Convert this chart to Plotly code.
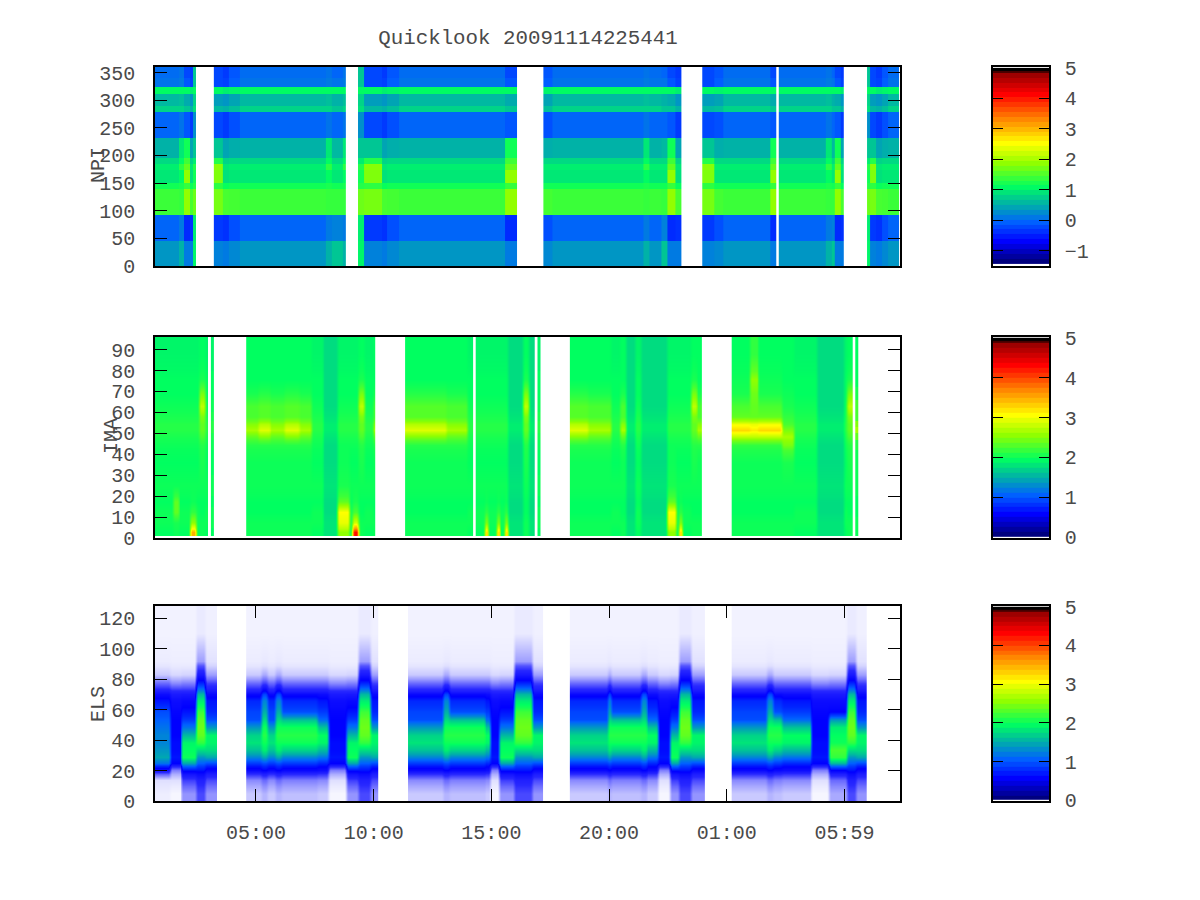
import plotly.graph_objects as go

TITLE = "Quicklook 20091114225441"
TIME_TICKS = [5, 10, 15, 20, 25, 30]
TIME_LABELS = ["05:00", "10:00", "15:00", "20:00", "01:00", "05:59"]
TIME_START = 0.71
TIME_END = 32.36
CELL_HOURS = 0.125

NPI_EDGES = [0, 46, 92, 140, 150, 173, 185, 195, 232, 278, 290, 312, 323, 340, 360]
NPI_PROFILES = {
    "N": [.25, -.1, 1.33, 1.1, .85, .9, .75, .45, -.1, .7, .5, 1.0, .0, -.05],
    "M": [.15, -.25, 1.38, 1.1, .85, .9, .75, .42, -.25, .55, .35, .95, -.15, -.2],
    "D": [.05, -.45, 1.4, 1.05, .8, .85, .7, .35, -.4, .45, .25, .9, -.35, -.4],
    "H": [.1, -.4, 1.65, 1.25, 1.7, 1.75, 1.2, .6, -.3, .5, .3, 1.0, -.3, -.3],
    "E": [.95, .9, 1.6, 1.2, 1.1, 1.2, .9, .6, .2, .8, .7, 1.0, .6, .6],
    "S": [.45, .05, 1.3, 1.15, 1.0, 1.25, 1.0, .85, .0, .7, .55, 1.0, .05, .0],
    "T": [.6, .1, 1.3, 1.1, .85, .9, .75, .5, -.1, .6, .45, 1.0, .0, -.1],
    "Y": [.05, -.5, 1.8, 1.3, 1.8, 1.55, 1.35, 1.1, -.2, .6, .4, 1.0, -.2, -.3],
}
NPI_RUNS = [
    ("N", 8), ("S", 2), ("Y", 2), ("D", 1), ("E", 1), ("-", 6),
    ("H", 3), ("D", 2), ("M", 4), ("N", 29), ("S", 2), ("T", 4), ("S", 1), ("-", 4),
    ("E", 2), ("H", 6), ("D", 2), ("M", 4), ("N", 36), ("Y", 4), ("-", 9),
    ("M", 3), ("N", 31), ("S", 2), ("N", 4), ("T", 2), ("Y", 3), ("D", 2), ("-", 7),
    ("H", 4), ("M", 3), ("N", 16), ("Y", 2), ("-", 1), ("N", 16), ("S", 2), ("T", 1), ("Y", 2), ("D", 1), ("-", 8),
    ("E", 1), ("H", 2), ("D", 2), ("M", 2), ("N", 4),
]
NPI_TICKS = [0, 50, 100, 150, 200, 250, 300, 350]

# IMA
IMA_EDGES = [1, 5, 10, 15, 20, 30, 42, 47, 50, 53, 56, 60, 66, 72, 80, 96]
IMA_PROFILES = {
    "g": [1.9, 1.95, 1.95, 1.9, 1.95, 1.9, 1.95, 2.0, 2.05, 2.05, 2.0, 1.95, 1.9, 1.9, 1.85],
    "c": [1.75, 1.75, 1.7, 1.7, 1.75, 1.7, 1.7, 1.75, 1.8, 1.8, 1.75, 1.7, 1.7, 1.7, 1.7],
    "m": [1.95, 1.95, 1.9, 1.9, 1.95, 1.95, 2.05, 2.3, 2.6, 2.45, 2.2, 2.2, 2.0, 1.9, 1.9],
    "h": [1.95, 1.95, 1.9, 1.9, 1.95, 1.95, 2.05, 2.45, 2.85, 2.65, 2.25, 2.25, 2.05, 1.9, 1.9],
    "R": [1.95, 1.95, 1.9, 1.9, 1.95, 1.95, 2.1, 2.7, 3.2, 2.95, 2.3, 2.2, 2.0, 1.95, 1.9],
    "Q": [1.95, 1.95, 1.9, 1.9, 1.95, 1.95, 2.1, 2.7, 3.1, 2.9, 2.3, 2.3, 2.35, 2.5, 2.1],
    "d": [1.95, 1.95, 1.9, 1.9, 1.95, 2.0, 2.4, 2.6, 2.4, 2.2, 2.1, 2.0, 1.95, 1.9, 1.9],
    "y": [1.95, 1.95, 1.9, 1.9, 1.95, 2.0, 2.05, 2.2, 2.3, 2.3, 2.4, 2.7, 2.4, 2.0, 1.9],
    "w": [1.95, 2.0, 2.3, 2.3, 1.95, 1.9, 1.95, 2.0, 2.05, 2.05, 2.0, 1.95, 1.9, 1.9, 1.85],
    "b": [2.5, 2.9, 3.0, 2.3, 2.0, 1.95, 1.95, 2.0, 2.05, 2.05, 2.0, 1.95, 1.9, 1.9, 1.85],
    "o": [3.4, 2.5, 2.1, 1.95, 1.95, 1.9, 1.95, 2.0, 2.05, 2.05, 2.0, 1.95, 1.9, 1.9, 1.85],
    "r": [4.2, 2.8, 2.2, 2.0, 1.95, 1.9, 1.95, 2.0, 2.05, 2.05, 2.0, 1.95, 1.9, 1.9, 1.85],
}
IMA_RUNS = [
    ("g", 6), ("w", 2), ("g", 4), ("o", 2), ("g", 1), ("y", 2), ("g", 1), ("-", 1), ("g", 1), ("-", 11),
    ("m", 4), ("h", 4), ("m", 5), ("h", 5), ("m", 4), ("g", 4), ("c", 5), ("b", 4), ("g", 1), ("r", 2),
    ("y", 2), ("g", 3), ("m", 1), ("-", 10),
    ("h", 14), ("m", 7), ("g", 2), ("-", 1),
    ("g", 3), ("o", 1), ("g", 3), ("o", 1), ("g", 2), ("o", 1), ("c", 5), ("y", 2), ("c", 2), ("-", 1), ("g", 1), ("-", 10),
    ("h", 6), ("m", 8), ("g", 3), ("m", 2), ("c", 3), ("g", 2), ("c", 9), ("b", 3), ("g", 1), ("o", 1), ("g", 3), ("y", 2), ("m", 2), ("-", 10),
    ("R", 6), ("Q", 3), ("R", 8), ("d", 4), ("g", 8), ("c", 9), ("g", 1), ("y", 2), ("-", 1), ("m", 1), ("-", 14),
]
IMA_TICKS = [0, 10, 20, 30, 40, 50, 60, 70, 80, 90]

# ELS: values under 0 stand for the sparse dots, as a partial cover of the white
ELS_EDGES = [0, 10, 18, 23, 27, 31, 36, 41, 46, 51, 56, 62, 70, 75, 80, 86, 92, 128]
ELS_PROFILES = {
    "A": [-.75, -.45, .35, .7, 1.1, 1.5, 1.85, 1.9, 1.55, 1.05, .8, .6, .1, -.3, -.75, -.88, -.94],
    "B": [-.92, -.85, .3, 1.1, 1.4, 1.3, 1.2, 1.2, 1.1, 1.0, .9, .6, .1, -.3, -.75, -.88, -.94],
    "C": [-.96, -.85, -.4, .5, .6, .55, .55, .5, .5, .5, .45, .35, .0, -.45, -.82, -.9, -.94],
    "F": [-.75, -.45, .4, .8, 1.2, 1.55, 1.75, 1.65, 1.3, .9, .85, .7, .1, -.3, -.75, -.88, -.94],
    "L": [-.65, -.3, .5, .9, 1.4, 1.8, 1.95, 2.05, 1.95, 1.7, 1.45, 1.2, .5, -.1, -.6, -.85, -.94],
    "H": [-.7, -.4, .4, .8, 1.2, 1.65, 1.95, 2.05, 1.95, 1.55, .9, .7, .1, -.3, -.75, -.88, -.94],
    "P": [-.5, -.1, .6, 1.4, 1.95, 1.9, 1.85, 1.5, 1.1, .8, .6, .4, .0, -.4, -.8, -.9, -.94],
    "Q": [-.15, .1, .6, 1.0, 1.3, 1.7, 2.1, 2.3, 2.35, 2.3, 2.15, 1.8, 1.2, .7, .2, -.2, -.9],
    "R": [-.5, -.15, .4, .9, 1.4, 1.7, 1.85, 1.85, 1.3, .9, .7, .6, .2, -.1, -.55, -.8, -.93],
    "G": [-.6, -.3, .5, 1.5, 2.1, 2.2, 1.95, 1.9, 1.8, 1.3, .5, .35, .0, -.4, -.8, -.9, -.94],
}
ELS_RUNS = [
    ("B", 5), ("C", 4), ("P", 5), ("Q", 3), ("R", 4), ("-", 10),
    ("F", 5), ("L", 2), ("F", 3), ("L", 2), ("H", 12), ("A", 4), ("C", 6), ("P", 4), ("Q", 4), ("R", 3), ("-", 10),
    ("F", 12), ("L", 2), ("H", 12), ("A", 2), ("C", 3), ("P", 5), ("Q", 6), ("R", 4), ("-", 9),
    ("F", 13), ("L", 1), ("H", 10), ("L", 2), ("A", 4), ("C", 4), ("P", 3), ("Q", 4), ("R", 5), ("-", 9),
    ("F", 12), ("L", 2), ("H", 3), ("A", 10), ("C", 6), ("G", 6), ("Q", 3), ("R", 4), ("-", 11),
]
ELS_TICKS = [0, 20, 40, 60, 80, 100, 120]

# Colour bars
PALETTE = [
    (0, "#00007f"), (.1, "#0000ff"), (.2, "#0060ff"), (.28, "#00a8b0"), (.38, "#00ff60"),
    (.5, "#90ff00"), (.6, "#ffff00"), (.72, "#ff8c00"), (.85, "#ff0000"), (.97, "#8b0000"),
    (.98, "#000000"), (1, "#000000"),
]
BAR_STEPS = [0, .025, .05, .075, .1, .125, .15, .175, .2, .225, .25, .275, .3, .325, .35, .375, .4,
             .425, .45, .475, .5, .525, .55, .575, .6, .625, .65, .675, .7, .725, .75, .775, .8,
             .825, .85, .875, .9, .925, .95, .975, .985, 1]
NPI_BAR_MIN, NPI_BAR_MAX = -1.42, 5
BAR_MIN, BAR_MAX = 0, 5
NPI_BAR_TICKS = [-1, 0, 1, 2, 3, 4, 5]
BAR_TICKS = [0, 1, 2, 3, 4, 5]

FONT = "Liberation Mono"
INK = "#4a4a4a"
PAGE_MARGIN = 8  # the browser's default body margin
W, H = 1200 - PAGE_MARGIN, 900 - PAGE_MARGIN
PLOT_X = (155, 900)
BAR_X = (993, 1049)
PANELS = [(67, 266), (337, 538), (606, 801)]
TICK_LEN = 12


def xpos(px):
    return (px - PAGE_MARGIN) / W


def ypos(px):
    return 1 - (px - PAGE_MARGIN) / H


def sections(runs, profiles):
    """Split the runs at the data gaps: (first column index, list of columns)."""
    out, index, current, start = [], 0, [], 0
    for key, count in runs:
        if key == "-":
            if current:
                out.append((start, current))
            current = []
            index += count
            start = index
        else:
            current += [profiles[key]] * count
            index += count
    if current:
        out.append((start, current))
    return out


ELS_SCALE = [[0, "#ffffff"], [1 / 6, "#2828ff"]] + [[(f * 5 + 1) / 6, c] for f, c in PALETTE[1:]]
SCALE = [[f, c] for f, c in PALETTE]

fig = go.Figure()
for i, (edges, runs, profiles, zmin, zmax, scale, smooth) in enumerate([
    (NPI_EDGES, NPI_RUNS, NPI_PROFILES, NPI_BAR_MIN, NPI_BAR_MAX, SCALE, False),
    (IMA_EDGES, IMA_RUNS, IMA_PROFILES, BAR_MIN, BAR_MAX, SCALE, "best"),
    (ELS_EDGES, ELS_RUNS, ELS_PROFILES, -1, 5, ELS_SCALE, "best"),
]):
    for start, cols in sections(runs, profiles):
        z = [[c[r] for c in cols] for r in range(len(edges) - 1)]
        # a lone column cannot be interpolated, so it stays a plain brick
        fig.add_trace(go.Heatmap(
            z=z, y=edges,
            x0=TIME_START + CELL_HOURS * (start + 0.5), dx=CELL_HOURS,
            zmin=zmin, zmax=zmax, colorscale=scale, showscale=False,
            zsmooth=smooth if len(cols) > 1 else False,
            xaxis=f"x{i + 1}", yaxis=f"y{i + 1}",
        ))

for i, (lo, hi) in enumerate([(NPI_BAR_MIN, NPI_BAR_MAX), (BAR_MIN, BAR_MAX), (BAR_MIN, BAR_MAX)]):
    fig.add_trace(go.Heatmap(
        z=[[f] for f in BAR_STEPS[:-1]], x=[0, 1],
        y=[lo + (hi - lo) * f for f in BAR_STEPS],
        zmin=0, zmax=1, colorscale=SCALE, showscale=False,
        xaxis=f"x{i + 4}", yaxis=f"y{i + 4}",
    ))

axis_line = dict(showline=True, linecolor="#000000", linewidth=1.5, mirror=True, showgrid=False, zeroline=False)
tick_font = dict(family=FONT, size=20, color=INK)
layout = dict(
    width=W, height=H, margin=dict(l=0, r=0, t=0, b=0, autoexpand=False), autosize=False,
    paper_bgcolor="#ffffff", plot_bgcolor="#ffffff", font=dict(family=FONT, color=INK),
    title=dict(text=TITLE, x=xpos(528), xanchor="center", xref="container", y=ypos(37), yanchor="middle",
               yref="container", font=dict(family=FONT, size=20.8, color=INK)),
    annotations=[
        dict(text=t, x=xpos(xp), y=ypos(yp), xref="paper", yref="paper", textangle=-90, showarrow=False,
             xanchor="center", yanchor="middle", font=dict(family=FONT, size=20, color=INK))
        for t, xp, yp in [("NPI", 98, 165), ("IMA", 111, 436), ("ELS", 98, 704)]
    ],
)
ranges = [([0, 360], NPI_TICKS), ([0, 96], IMA_TICKS), ([0, 128], ELS_TICKS)]
bar_ranges = [([-1.5, 5.03], NPI_BAR_TICKS), ([-0.02, 5.02], BAR_TICKS), ([-0.02, 5.02], BAR_TICKS)]
for i, (top, bottom) in enumerate(PANELS):
    n = i + 1
    xa = dict(axis_line, domain=[xpos(PLOT_X[0]), xpos(PLOT_X[1])], range=[TIME_START, TIME_END],
              anchor=f"y{n}", tickmode="array", tickvals=TIME_TICKS)
    if i == 2:
        xa.update(ticktext=TIME_LABELS, ticks="inside", ticklen=TICK_LEN, tickcolor="#000000", mirror="allticks",
                  tickfont=tick_font, ticklabelstandoff=12)
    else:
        xa.update(showticklabels=False, ticks="")
    layout[f"xaxis{n}"] = xa
    layout[f"yaxis{n}"] = dict(axis_line, domain=[ypos(bottom), ypos(top)], range=ranges[i][0], anchor=f"x{n}",
                               mirror="allticks", tickmode="array", tickvals=ranges[i][1], ticks="inside",
                               ticklen=TICK_LEN, tickcolor="#000000", tickfont=tick_font, ticklabelstandoff=14)
    m = i + 4
    layout[f"xaxis{m}"] = dict(axis_line, domain=[xpos(BAR_X[0]), xpos(BAR_X[1])], range=[0, 1], anchor=f"y{m}",
                               showticklabels=False, ticks="")
    layout[f"yaxis{m}"] = dict(axis_line, domain=[ypos(bottom), ypos(top)], range=bar_ranges[i][0], anchor=f"x{m}",
                               side="right", mirror="allticks", tickmode="array", tickvals=bar_ranges[i][1],
                               ticks="inside", ticklen=10, tickcolor="#000000", tickfont=tick_font,
                               ticklabelstandoff=10)
fig.update_layout(**layout)
fig.write_html("out.html")
